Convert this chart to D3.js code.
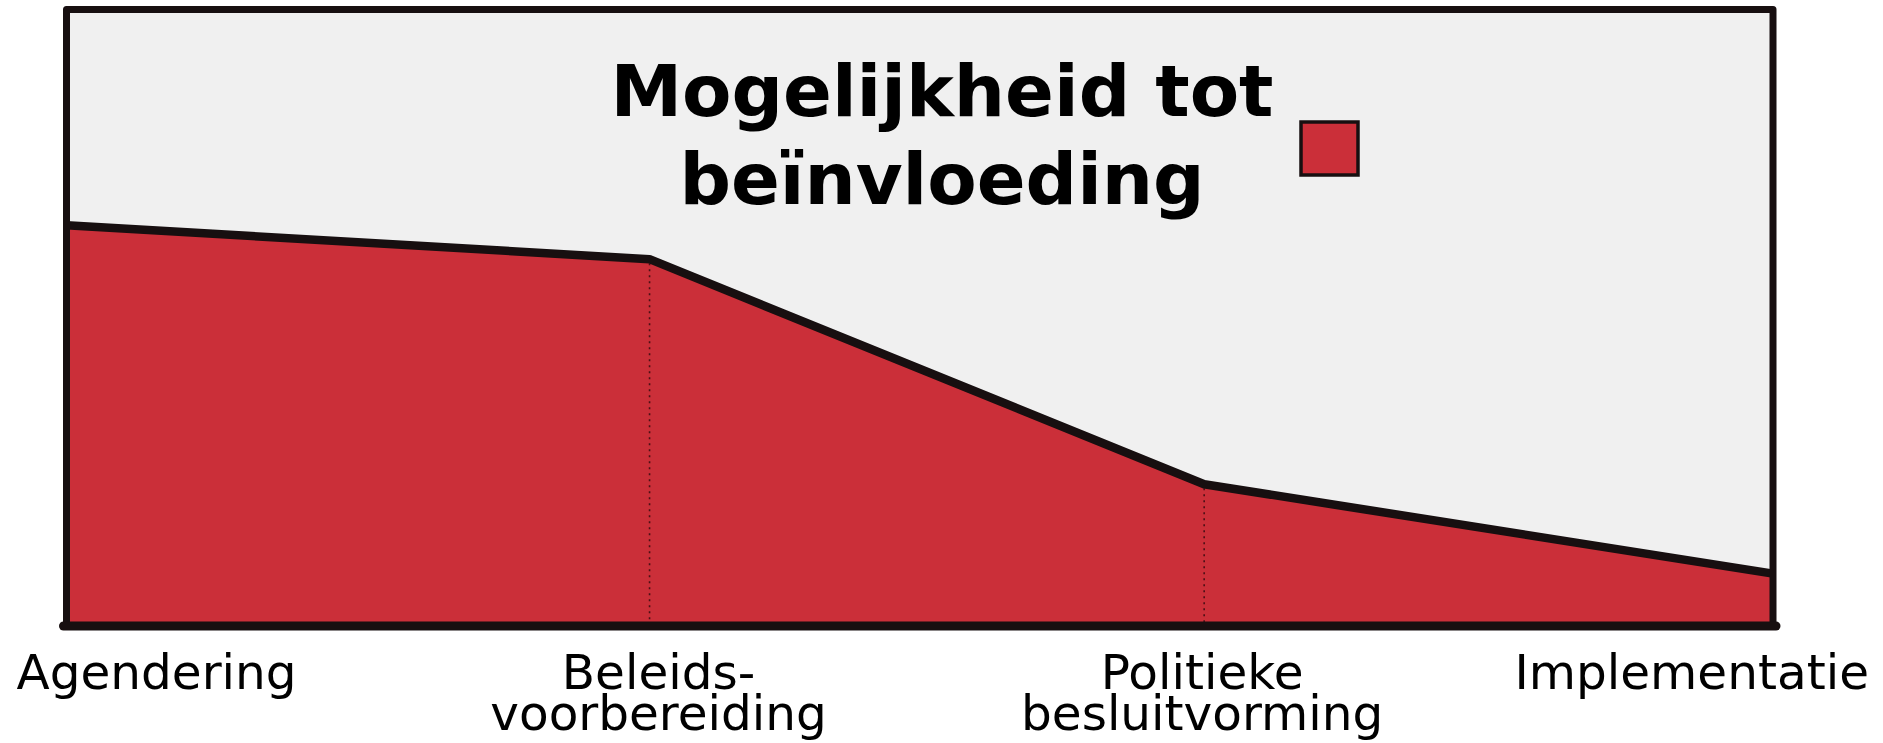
<!DOCTYPE html>
<html>
<head>
<meta charset="utf-8">
<script src="https://cdn.jsdelivr.net/npm/d3@7/dist/d3.min.js"></script>
<style>
  html, body { margin: 0; padding: 0; background: #ffffff; }
  svg { display: block; }
</style>
</head>
<body>
<svg id="chart" width="1883" height="743"></svg>
<script>
// ---- data ----
const stages = ["Agendering", "Beleids-\nvoorbereiding", "Politieke\nbesluitvorming", "Implementatie"];
const stagePos = [0, 1.025, 2, 3];          // where each phase sits along the process
const influence = [65, 59.5, 23, 8.5];
const legendLines = ["Mogelijkheid tot", "beïnvloeding"];

(function () {
// ---- layout ----
const pLeft = 66.5, pRight = 1773, pTop = 9.5, pBase = 626;
const red = "#cb2f39", ink = "#170f10", panel = "#f0f0f0";

const svg = d3.select("#chart");
const x = d3.scaleLinear().domain([0, 3]).range([pLeft, pRight]);
const y = d3.scaleLinear().domain([0, 100]).range([pBase, pTop]);

const data = stages.map((s, i) => ({ s, p: stagePos[i], v: influence[i] }));

// panel background
svg.append("rect")
  .attr("x", pLeft).attr("y", pTop)
  .attr("width", pRight - pLeft).attr("height", pBase - pTop)
  .attr("fill", panel);

// area
svg.append("path")
  .datum(data)
  .attr("d", d3.area().x(d => x(d.p)).y0(y(0)).y1(d => y(d.v)))
  .attr("fill", red);

// dotted dividers at inner stages
svg.selectAll("line.div")
  .data(data.slice(1, -1))
  .join("line")
  .attr("class", "div")
  .attr("x1", d => x(d.p)).attr("x2", d => x(d.p))
  .attr("y1", d => y(d.v) + 4).attr("y2", y(0))
  .attr("stroke", "#4a1015")
  .attr("stroke-width", 1.6)
  .attr("stroke-dasharray", "2,4");

// top line
svg.append("path")
  .datum(data)
  .attr("d", d3.line().x(d => x(d.p)).y(d => y(d.v)))
  .attr("fill", "none")
  .attr("stroke", ink)
  .attr("stroke-width", 8.5)
  .attr("stroke-linejoin", "round");

// frame
svg.append("rect")
  .attr("x", pLeft).attr("y", pTop)
  .attr("width", pRight - pLeft).attr("height", pBase - pTop)
  .attr("fill", "none")
  .attr("stroke", ink)
  .attr("stroke-width", 7)
  .attr("stroke-linejoin", "round");
svg.append("line")
  .attr("x1", pLeft - 3).attr("x2", pRight + 3)
  .attr("y1", y(0)).attr("y2", y(0))
  .attr("stroke", ink)
  .attr("stroke-width", 9)
  .attr("stroke-linecap", "round");

// category labels
const fontSize = 48.5;
const labelCfg = [
  { anchor: "start", dx: -50 },
  { anchor: "middle", dx: 9 },
  { anchor: "middle", dx: -2 },
  { anchor: "end", dx: 96 }
];
stages.forEach((s, i) => {
  const t = svg.append("text")
    .attr("x", x(stagePos[i]) + labelCfg[i].dx)
    .attr("y", 689)
    .attr("text-anchor", labelCfg[i].anchor)
    .attr("font-family", "DejaVu Sans")
    .attr("font-size", fontSize)
    .attr("fill", "#000");
  s.split("\n").forEach((ln, j) => {
    t.append("tspan")
      .attr("x", x(stagePos[i]) + labelCfg[i].dx)
      .attr("dy", j === 0 ? 0 : 41)
      .text(ln);
  });
});

// legend
const lg = svg.append("g");
const lt = lg.append("text")
  .attr("text-anchor", "middle")
  .attr("font-family", "DejaVu Sans")
  .attr("font-weight", "bold")
  .attr("font-size", 72)
  .attr("fill", "#000");
legendLines.forEach((ln, j) => {
  lt.append("tspan")
    .attr("x", 942)
    .attr("y", 116 + j * 88)
    .text(ln);
});
lg.append("rect")
  .attr("x", 1301).attr("y", 122)
  .attr("width", 57).attr("height", 53)
  .attr("fill", red)
  .attr("stroke", ink)
  .attr("stroke-width", 3.5);
})();
</script>
</body>
</html>
